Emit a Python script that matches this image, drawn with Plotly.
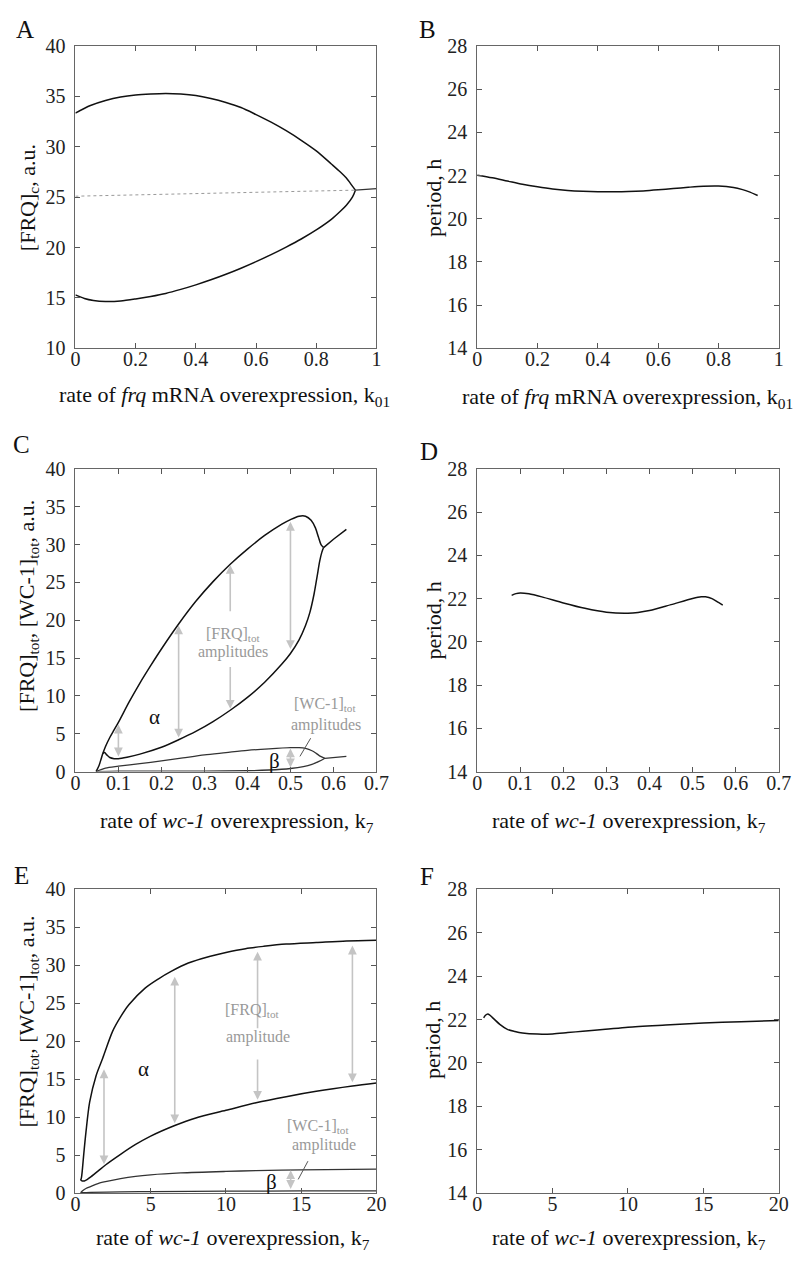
import plotly.graph_objects as go

# ---------------- data ----------------
# Panel A: [FRQ]c vs k01
A_upper_x = [0, 0.05, 0.1, 0.15, 0.2, 0.25, 0.3, 0.35, 0.4, 0.45, 0.5, 0.55, 0.6, 0.65, 0.7, 0.75, 0.8, 0.85, 0.88, 0.9, 0.92, 0.93]
A_upper_y = [33.35, 34.1, 34.6, 34.95, 35.15, 35.25, 35.3, 35.25, 35.1, 34.8, 34.4, 33.9, 33.2, 32.45, 31.6, 30.65, 29.6, 28.3, 27.5, 26.9, 26.1, 25.7]
A_lower_x = [0, 0.03, 0.06, 0.1, 0.15, 0.2, 0.25, 0.3, 0.35, 0.4, 0.45, 0.5, 0.55, 0.6, 0.65, 0.7, 0.75, 0.8, 0.85, 0.88, 0.9, 0.92, 0.93]
A_lower_y = [15.3, 14.95, 14.75, 14.65, 14.7, 14.9, 15.15, 15.45, 15.85, 16.3, 16.8, 17.35, 17.95, 18.6, 19.3, 20.05, 20.85, 21.75, 22.8, 23.6, 24.2, 25.0, 25.7]
A_unstable_x = [0, 0.93]
A_unstable_y = [25.1, 25.7]
A_stable_x = [0.93, 1.0]
A_stable_y = [25.7, 25.85]

# Panel B: period vs k01
B_x = [0, 0.05, 0.1, 0.15, 0.2, 0.25, 0.3, 0.35, 0.4, 0.45, 0.5, 0.55, 0.6, 0.65, 0.7, 0.75, 0.8, 0.85, 0.88, 0.9, 0.93]
B_y = [22.02, 21.9, 21.75, 21.6, 21.48, 21.38, 21.31, 21.27, 21.25, 21.25, 21.26, 21.29, 21.34, 21.4, 21.46, 21.51, 21.52, 21.45, 21.35, 21.26, 21.08]

# Panel C: [FRQ]tot, [WC-1]tot vs k7
C_frq_max_x = [0.048, 0.055, 0.06, 0.064, 0.07, 0.08, 0.09, 0.1, 0.125, 0.15, 0.175, 0.2, 0.24, 0.28, 0.32, 0.36, 0.4, 0.44, 0.48, 0.5, 0.52, 0.535, 0.548, 0.558, 0.565, 0.571, 0.577]
C_frq_max_y = [0, 0.8, 1.7, 2.4, 3.3, 4.5, 5.5, 6.5, 9.2, 11.7, 14.0, 16.2, 19.5, 22.5, 25.1, 27.4, 29.4, 31.2, 32.7, 33.3, 33.75, 33.75, 33.2, 32.2, 31.0, 30.0, 29.6]
C_frq_min_x = [0.064, 0.068, 0.073, 0.08, 0.09, 0.1, 0.12, 0.15, 0.2, 0.24, 0.28, 0.32, 0.36, 0.4, 0.44, 0.48, 0.5, 0.52, 0.535, 0.545, 0.555, 0.562, 0.568, 0.573, 0.577]
C_frq_min_y = [2.4, 2.5, 2.2, 1.85, 1.7, 1.7, 1.9, 2.3, 3.2, 4.2, 5.3, 6.6, 8.1, 9.8, 11.8, 14.2, 15.6, 17.4, 19.3, 21.0, 23.5, 25.8, 27.8, 29.0, 29.6]
C_frq_ss_x = [0.577, 0.6, 0.63]
C_frq_ss_y = [29.6, 30.7, 32.0]
C_wc_max_x = [0.048, 0.07, 0.1, 0.15, 0.2, 0.25, 0.3, 0.35, 0.4, 0.45, 0.5, 0.52, 0.535, 0.55, 0.56, 0.57, 0.58]
C_wc_max_y = [0, 0.45, 0.7, 1.05, 1.4, 1.8, 2.2, 2.5, 2.8, 3.0, 3.15, 3.15, 3.05, 2.75, 2.4, 2.0, 1.75]
C_wc_min_x = [0.048, 0.1, 0.2, 0.3, 0.4, 0.45, 0.5, 0.53, 0.55, 0.565, 0.58]
C_wc_min_y = [0, 0.05, 0.05, 0.06, 0.1, 0.2, 0.4, 0.65, 0.95, 1.3, 1.75]
C_wc_ss_x = [0.58, 0.6, 0.63]
C_wc_ss_y = [1.75, 1.85, 2.0]

# Panel D: period vs k7
D_x = [0.08, 0.09, 0.1, 0.12, 0.15, 0.2, 0.25, 0.3, 0.35, 0.4, 0.45, 0.5, 0.52, 0.53, 0.545, 0.56, 0.57]
D_y = [22.15, 22.23, 22.26, 22.22, 22.08, 21.8, 21.55, 21.37, 21.32, 21.45, 21.72, 22.0, 22.08, 22.08, 22.0, 21.82, 21.7]

# Panel E: [FRQ]tot, [WC-1]tot vs k7 (wide range)
E_frq_max_x = [0.35, 0.4, 0.45, 0.55, 0.7, 0.95, 1.38, 1.82, 2.47, 3.0, 3.55, 4.63, 5.5, 6.36, 7.5, 8.96, 10, 11.3, 12.5, 14, 16, 18, 20]
E_frq_max_y = [1.7, 2.0, 2.8, 5.0, 8.0, 12.0, 15.5, 17.8, 21.3, 23.2, 24.8, 27.0, 28.2, 29.2, 30.3, 31.2, 31.7, 32.2, 32.5, 32.8, 33.0, 33.2, 33.3]
E_frq_min_x = [0.35, 0.45, 0.6, 0.8, 1.0, 1.5, 2.0, 3.0, 4.0, 5.0, 6.6, 8.0, 10, 12, 14, 16, 18.4, 20]
E_frq_min_y = [1.7, 1.6, 1.6, 1.8, 2.1, 2.9, 3.7, 5.1, 6.4, 7.5, 8.9, 9.9, 10.9, 11.9, 12.7, 13.4, 14.1, 14.5]
E_wc_max_x = [0.35, 0.5, 0.7, 1, 1.5, 2, 3, 4, 5, 7, 10, 12, 15, 20]
E_wc_max_y = [0.05, 0.35, 0.6, 0.85, 1.25, 1.5, 1.9, 2.2, 2.4, 2.65, 2.85, 2.95, 3.05, 3.15]
E_wc_min_x = [0.35, 1, 3, 5, 10, 15, 20]
E_wc_min_y = [0.05, 0.1, 0.15, 0.2, 0.25, 0.28, 0.3]

# Panel F: period vs k7 (wide range)
F_x = [0.43, 0.55, 0.7, 0.85, 1.0, 1.5, 2.0, 2.5, 3.0, 4.0, 5.0, 6.0, 7.0, 8.5, 10, 12.5, 15, 17.5, 20]
F_y = [22.08, 22.2, 22.26, 22.2, 22.1, 21.78, 21.55, 21.45, 21.38, 21.33, 21.34, 21.4, 21.46, 21.55, 21.65, 21.75, 21.84, 21.9, 21.96]

# amplitude arrows: (x, y_from, y_to, style)  style: 'both' | 'up' | 'down'
C_arrows = [(0.1, 1.8, 6.2, 'both'), (0.24, 4.3, 19.3, 'both'), (0.36, 21.0, 27.3, 'up'),
            (0.36, 14.0, 8.3, 'down'), (0.5, 16.0, 33.0, 'both'), (0.5, 0.35, 3.05, 'both')]
E_arrows = [(1.9, 3.6, 16.3, 'both'), (6.6, 9.0, 28.5, 'both'), (12.1, 21.5, 31.8, 'up'),
            (12.1, 17.8, 12.3, 'down'), (18.4, 14.4, 32.6, 'both'), (14.3, 0.35, 3.0, 'both')]

# ---------------- layout helpers ----------------
W, H = 804, 1264
SERIF = "Liberation Serif, Times New Roman, serif"
LEFT_X = [72 / W, 380 / W]
RIGHT_X = [483 / W, 791.5 / W]
ROW_Y = [[1 - 343.3 / H, 1 - 35.7 / H], [1 - 774 / H, 1 - 466 / H], [1 - 1203 / H, 1 - 894 / H]]
TICK_SIZE = 20
TITLE_SIZE = 22

fig = go.Figure()

def line(xs, ys, ax, color="#111", width=1.5, dash=None, shape="spline"):
    fig.add_trace(go.Scatter(x=xs, y=ys, mode="lines", xaxis="x" + ax, yaxis="y" + ax,
                             line=dict(color=color, width=width, dash=dash, shape=shape, smoothing=0.8),
                             showlegend=False, hoverinfo="skip"))

# A
line(A_upper_x, A_upper_y, "")
line(A_lower_x, A_lower_y, "")
line(A_unstable_x, A_unstable_y, "", color="#999", width=1.0, dash="dot", shape="linear")
line(A_stable_x, A_stable_y, "", color="#333", width=1.2, shape="linear")
# B
line(B_x, B_y, "2")
# C
line(C_frq_max_x, C_frq_max_y, "3")
line(C_frq_min_x, C_frq_min_y, "3")
line(C_frq_ss_x, C_frq_ss_y, "3", shape="linear")
line(C_wc_max_x, C_wc_max_y, "3", color="#333", width=1.3)
line(C_wc_min_x, C_wc_min_y, "3", color="#333", width=1.3)
line(C_wc_ss_x, C_wc_ss_y, "3", color="#333", width=1.3, shape="linear")
# D
line(D_x, D_y, "4")
# E
line(E_frq_max_x, E_frq_max_y, "5")
line(E_frq_min_x, E_frq_min_y, "5")
line(E_wc_max_x, E_wc_max_y, "5", color="#333", width=1.3)
line(E_wc_min_x, E_wc_min_y, "5", color="#333", width=1.3)
# F
line(F_x, F_y, "6")

def xaxis(dom, rng, dtick, anchor):
    return dict(domain=dom, range=rng, dtick=dtick, tick0=0, anchor=anchor, showgrid=False, zeroline=False,
                showline=True, mirror="ticks", linecolor="#666", linewidth=1, ticks="inside", ticklen=5,
                tickcolor="#555", tickfont=dict(family=SERIF, size=TICK_SIZE, color="#222"), ticklabelstandoff=-7)

def yaxis(dom, rng, dtick, anchor):
    return dict(domain=dom, range=rng, dtick=dtick, tick0=0, anchor=anchor, showgrid=False, zeroline=False,
                showline=True, mirror="ticks", linecolor="#666", linewidth=1, ticks="inside", ticklen=5,
                tickcolor="#555", tickfont=dict(family=SERIF, size=TICK_SIZE, color="#222"), ticklabelstandoff=5)

layout = dict(width=W, height=H, margin=dict(l=0, r=0, t=0, b=0), paper_bgcolor="white",
              plot_bgcolor="white", showlegend=False)
layout["xaxis"] = xaxis(LEFT_X, [0, 1], 0.2, "y")
layout["yaxis"] = yaxis(ROW_Y[0], [10, 40], 5, "x")
layout["xaxis2"] = xaxis(RIGHT_X, [0, 1], 0.2, "y2")
layout["yaxis2"] = yaxis(ROW_Y[0], [14, 28], 2, "x2")
layout["xaxis3"] = xaxis(LEFT_X, [0, 0.7], 0.1, "y3")
layout["yaxis3"] = yaxis(ROW_Y[1], [0, 40], 5, "x3")
layout["xaxis4"] = xaxis(RIGHT_X, [0, 0.7], 0.1, "y4")
layout["yaxis4"] = yaxis(ROW_Y[1], [14, 28], 2, "x4")
layout["xaxis5"] = xaxis(LEFT_X, [0, 20], 5, "y5")
layout["yaxis5"] = yaxis(ROW_Y[2], [0, 40], 5, "x5")
layout["xaxis6"] = xaxis(RIGHT_X, [0, 20], 5, "y6")
layout["yaxis6"] = yaxis(ROW_Y[2], [14, 28], 2, "x6")
fig.update_layout(**layout)

ann = []

def ptext(text, px, py, size=TITLE_SIZE, angle=0, color="#111"):
    ann.append(dict(text=text, x=px / W, y=1 - py / H, xref="paper", yref="paper", showarrow=False,
                    textangle=angle, xanchor="center", yanchor="middle",
                    font=dict(family=SERIF, size=size, color=color)))

# panel letters
for lab, px, py in [("A", 20, 19), ("B", 432, 19), ("C", 17, 441), ("D", 434, 448), ("E", 17, 880), ("F", 432, 881)]:
    ptext(lab, px, py, size=25)

# x-axis titles
xt_frq = "rate of <i>frq</i> mRNA overexpression, k<sub>01</sub>"
xt_wc = "rate of <i>wc-1</i> overexpression, k<sub>7</sub>"
ptext(xt_frq, 225, 392)
ptext(xt_frq, 637, 394)
ptext(xt_wc, 237, 825)
ptext(xt_wc, 638, 825)
ptext(xt_wc, 233, 1250)
ptext(xt_wc, 638, 1250)

# y-axis titles
ptext("[FRQ]<sub>c</sub>, a.u.", 24, 190, angle=-90)
ptext("period, h", 438, 190, angle=-90)
ptext("[FRQ]<sub>tot</sub>, [WC-1]<sub>tot</sub>, a.u.", 24, 605, angle=-90)
ptext("period, h", 438, 620, angle=-90)
ptext("[FRQ]<sub>tot</sub>, [WC-1]<sub>tot</sub>, a.u.", 24, 1028, angle=-90)
ptext("period, h", 438, 1047, angle=-90)

ARROW_C = "#c4c4c4"

def arrows(lst, ax):
    for (x, y0, y1, style) in lst:
        side = {"both": "end+start", "up": "end", "down": "end"}[style]
        ann.append(dict(x=x, y=y1, ax=x, ay=y0, xref="x" + ax, yref="y" + ax, axref="x" + ax, ayref="y" + ax,
                        text="", showarrow=True, arrowhead=2, arrowsize=1.1, arrowwidth=1.6,
                        arrowcolor=ARROW_C, arrowside=side, startarrowhead=2, startarrowsize=1.1))

arrows(C_arrows, "3")
arrows(E_arrows, "5")

def dtext(text, x, y, ax, size=16, color="#999"):
    ann.append(dict(text=text, x=x, y=y, xref="x" + ax, yref="y" + ax, showarrow=False,
                    xanchor="center", yanchor="middle", font=dict(family=SERIF, size=size, color=color)))

# Panel C labels
dtext("[FRQ]<sub>tot</sub>", 0.367, 18.1, "3")
dtext("amplitudes", 0.367, 15.8, "3")
dtext("[WC-1]<sub>tot</sub>", 0.58, 8.8, "3")
dtext("amplitudes", 0.583, 6.2, "3")
dtext("α", 0.185, 7.2, "3", size=21, color="#111")
dtext("β", 0.462, 1.4, "3", size=21, color="#111")
ann.append(dict(x=0.522, y=2.0, ax=0.549, ay=4.6, xref="x3", yref="y3", axref="x3", ayref="y3", text="",
                showarrow=True, arrowhead=0, arrowwidth=1, arrowcolor="#555"))

# Panel E labels
dtext("[FRQ]<sub>tot</sub>", 11.7, 24.0, "5")
dtext("amplitude", 12.1, 20.6, "5")
dtext("[WC-1]<sub>tot</sub>", 16.1, 8.8, "5")
dtext("amplitude", 16.5, 6.3, "5")
dtext("α", 4.5, 16.4, "5", size=21, color="#111")
dtext("β", 13.0, 1.4, "5", size=21, color="#111")
ann.append(dict(x=14.8, y=1.8, ax=15.5, ay=4.4, xref="x5", yref="y5", axref="x5", ayref="y5", text="",
                showarrow=True, arrowhead=0, arrowwidth=1, arrowcolor="#555"))

fig.update_layout(annotations=ann)
fig.write_html("out.html")
